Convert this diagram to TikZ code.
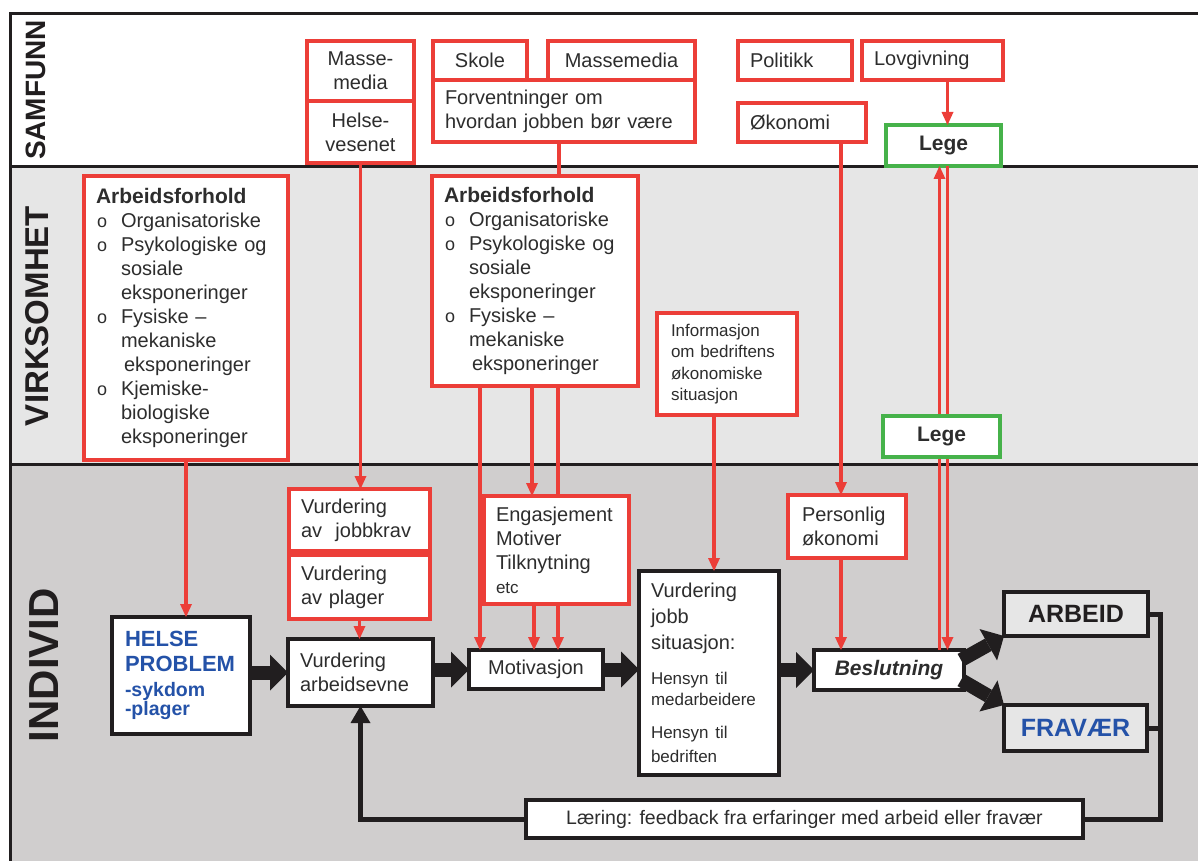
\documentclass[tikz,border=0pt]{standalone}
\usepackage{fontspec}
\setmainfont{Liberation Sans}
\usepackage{tikz}
\usetikzlibrary{
  arrows.meta,
  positioning,  % below=... of x
  calc,
}
\definecolor{myred}{RGB}{236,62,56}
\definecolor{mygreen}{RGB}{70,178,74}
\definecolor{myblue}{RGB}{36,82,168}
\definecolor{mytext}{RGB}{45,45,45}
\definecolor{myblack}{RGB}{33,30,31}
\definecolor{bandmid}{RGB}{230,230,230}
\definecolor{bandlow}{RGB}{208,206,206}
\newcommand{\fnorm}{\fontsize{20}{24}\selectfont}
\newcommand{\fsmall}{\fontsize{17}{21.5}\selectfont}
\newcommand{\arbbul}{\makebox[25pt][l]{\hspace{1pt}\fontsize{18}{18}\selectfont o}}
\newcommand{\arbind}{\hspace*{25pt}}
\tikzset{
  diagram/.style={
    x=1pt,
    y=-1pt
  },
  band line/.style={
    draw=myblack,
    line width=3pt
  },
  my band label/.style={
    rotate=90,
    text=myblack
  },
  my box/.style={
    draw,
    fill=white,
    text=mytext,
    outer sep=0pt,
    inner xsep=12pt,
    inner ysep=2pt,
    font=\fnorm
  },
  my red box/.style={
    my box,
    draw=myred,
    line width=3.8pt
  },
  my green box/.style={
    my box,
    draw=mygreen,
    line width=3.8pt,
    font=\fontsize{21}{24}\selectfont\bfseries
  },
  my black box/.style={
    my box,
    draw=myblack,
    line width=4.8pt
  },
  red line/.style={
    draw=myred,
    line width=3.2pt
  },
  red arrow/.style={
    red line,
    -{Triangle[length=13pt,width=12pt,line width=0pt]}
  },
  block arrow/.style={
    draw=myblack,
    line width=14pt,
    -{Triangle[length=18pt,width=36pt,line width=0pt]}
  },
  feedback/.style={
    draw=myblack,
    line width=5pt
  }
}

\begin{document}
\begin{tikzpicture}[diagram]
\useasboundingbox (0,0) rectangle (1198,861);
% bands
\fill[bandmid] (10,167) rectangle (1198,464);
\fill[bandlow] (10,464) rectangle (1198,861);
\draw[band line] (1198,14) -- (10,14) -- (10,861);
\draw[band line] (10,167) -- (1198,167);
\draw[band line] (10,464) -- (1198,464);
\node[my band label, font=\fontsize{28}{28}\selectfont\bfseries] (samfunn) at (36,90) {SAMFUNN};
\node[my band label, font=\fontsize{33}{33}\selectfont\bfseries] (virksomhet) at (37,316) {VIRKSOMHET};
\node[my band label, font=\fontsize{42}{42}\selectfont\bfseries] (individ) at (44,665) {INDIVID};

% samfunn
\node[my red box, align=center, minimum width=107pt, minimum height=60pt, anchor=north west] (media) at (307,41) {Masse-\\media};
\node[my red box, align=center, minimum width=107pt, minimum height=62pt, below=0pt of media] (helsevesen) {Helse-\\vesenet};
\node[my red box, minimum width=94pt, minimum height=39pt, anchor=north west] (skole) at (433,41) {Skole};
\node[my red box, minimum width=147pt, minimum height=39pt, anchor=north west] (media2) at (548,41) {Massemedia};
\node[my red box, align=left, text width=238pt, minimum height=62pt, below=0pt of skole.south west, anchor=north west] (forv) {Forventninger om\\hvordan jobben bør være};
\node[my red box, align=left, text width=90pt, minimum height=39pt, anchor=north west] (politikk) at (738,41) {Politikk};
\node[my red box, align=left, text width=117pt, minimum height=39pt, anchor=north west] (lov) at (862,41) {Lovgivning};
\node[my red box, align=left, text width=104pt, minimum height=39pt, anchor=north west] (okonomi) at (738,103) {Økonomi};
\node[my green box, minimum width=115pt, minimum height=41pt, anchor=north west] (lege) at (886,125) {Lege};

% virksomhet
\node[my red box, align=left, text width=180pt, minimum height=284pt, anchor=north west] (arbA) at (84,176) {%
  {\fontsize{21}{24}\selectfont\bfseries Arbeidsforhold}\\
  \arbbul Organisatoriske\\
  \arbbul Psykologiske og\\
  \arbind sosiale\\
  \arbind eksponeringer\\
  \arbbul Fysiske –\\
  \arbind mekaniske\\
  \arbind\hspace*{3pt}eksponeringer\\
  \arbbul Kjemiske-\\
  \arbind biologiske\\
  \arbind eksponeringer};
\node[my red box, align=left, text width=182pt, minimum height=210pt, anchor=north west] (arbB) at (432,176) {%
  {\fontsize{21}{24}\selectfont\bfseries Arbeidsforhold}\\
  \arbbul Organisatoriske\\
  \arbbul Psykologiske og\\
  \arbind sosiale\\
  \arbind eksponeringer\\
  \arbbul Fysiske –\\
  \arbind mekaniske\\
  \arbind\hspace*{3pt}eksponeringer};
\node[my red box, align=left, inner xsep=14pt, text width=112pt, minimum height=102pt, anchor=north west, font=\fsmall] (info) at (657,313) {Informasjon\\om bedriftens\\økonomiske\\situasjon};

% individ
\node[my red box, align=left, text width=117pt, minimum height=62pt, anchor=north west] (jobbkrav) at (289,489) {Vurdering\\av~ jobbkrav};
\node[my red box, align=left, text width=117pt, minimum height=64pt, below=4pt of jobbkrav] (plager) {Vurdering\\av plager};
\node[my red box, align=left, text width=121pt, minimum height=108pt, anchor=north west] (engasjement) at (484,496) {Engasjement\\Motiver\\Tilknytning\\{\fsmall etc}};
\node[my red box, align=left, inner xsep=14pt, text width=90pt, minimum height=63pt, anchor=north west] (personlig) at (788,495) {Personlig\\økonomi};
\node[my black box, align=left, inner xsep=13pt, text width=112pt, minimum height=117pt, anchor=north west, text=myblue, font=\bfseries] (helseproblem) at (112,617) {\fontsize{22}{25}\selectfont HELSE\\PROBLEM\\\fontsize{19.5}{24.5}\selectfont -sykdom\\-plager};
\node[my black box, align=left, text width=121pt, minimum height=67pt, anchor=north west] (arbeidsevne) at (288,639) {Vurdering\\arbeidsevne};
\node[my black box, minimum width=134pt, minimum height=39pt, anchor=north west] (motivasjon) at (469,650) {Motivasjon};
\node[my black box, align=left, text width=116pt, minimum height=204pt, anchor=north west] (jobbsit) at (639,571) {\fontsize{20}{26}\selectfont Vurdering\\jobb\\situasjon:\par\vspace{13pt}\fsmall Hensyn til\\medarbeidere\par\vspace{11pt}Hensyn til\\bedriften};
\node[my black box, minimum width=150pt, minimum height=40pt, anchor=north west, font=\fontsize{21}{24}\selectfont\bfseries\itshape] (beslutning) at (814,650) {Beslutning};
\node[my black box, fill=bandmid, minimum width=144pt, minimum height=44pt, anchor=north west, font=\fontsize{25}{28}\selectfont\bfseries, text=myblack] (arbeid) at (1004,592) {ARBEID};
\node[my black box, fill=bandmid, minimum width=143pt, minimum height=46pt, anchor=north west, font=\fontsize{25}{28}\selectfont\bfseries, text=myblue] (fravaer) at (1004,705) {FRAVÆR};
\node[my black box, minimum width=557pt, minimum height=38pt, anchor=north west, font=\fontsize{19.5}{22}\selectfont] (laering) at (526,800) {Læring: feedback fra erfaringer med arbeid eller fravær};

% red connectors
\draw[red arrow] (helsevesen.south) -- (helsevesen.south |- jobbkrav.north);
\draw[red line] ([xshift=-5pt]forv.south) -- ([xshift=-5pt]forv.south |- arbB.north);
\draw[red arrow] ([xshift=4pt]lege.north |- lov.south) -- ([xshift=4pt]lege.north);
\draw[red arrow] ([xshift=-6pt]personlig.north |- okonomi.south) -- ([xshift=-6pt]personlig.north);
\draw[red arrow] ([xshift=-6pt]personlig.south) -- ([xshift=-6pt]personlig.south |- beslutning.north);
\draw[red arrow] ([xshift=-4pt]lege.south |- beslutning.north) -- ([xshift=-4pt]lege.south);
\draw[red arrow] ([xshift=4pt]lege.south) -- ([xshift=4pt]lege.south |- beslutning.north);
\draw[red arrow] (arbA.south) -- (arbA.south |- helseproblem.north);
\draw[red arrow] (plager.south) -- (plager.south |- arbeidsevne.north);
\draw[red arrow] ([xshift=48pt]arbB.south west) -- ([xshift=48pt]arbB.south west |- motivasjon.north);
\draw[red arrow] ([xshift=100pt]arbB.south west) -- ([xshift=100pt]arbB.south west |- engasjement.north);
\draw[red line] ([xshift=126pt]arbB.south west) -- ([xshift=126pt]arbB.south west |- engasjement.north);
\draw[red arrow] ([xshift=50pt]engasjement.south west) -- ([xshift=50pt]engasjement.south west |- motivasjon.north);
\draw[red arrow] ([xshift=74pt]engasjement.south west) -- ([xshift=74pt]engasjement.south west |- motivasjon.north);
\draw[red arrow] ([xshift=-13pt]info.south) -- ([xshift=-13pt]info.south |- jobbsit.north);

\node[my green box, minimum width=117pt, minimum height=41pt, anchor=north west] (lege2) at (883,416) {Lege};

% main flow
\draw[block arrow] (helseproblem.east |- arbeidsevne.west) -- (arbeidsevne.west);
\draw[block arrow] (arbeidsevne.east |- motivasjon.west) -- (motivasjon.west);
\draw[block arrow] (motivasjon.east) -- (motivasjon.east -| jobbsit.west);
\draw[block arrow] (jobbsit.east |- beslutning.west) -- (beslutning.west);
\draw[block arrow] ([xshift=-3pt,yshift=10pt]beslutning.east) -- (arbeid.south west);
\draw[block arrow] ([xshift=-3pt,yshift=-10pt]beslutning.east) -- (fravaer.north west);

% feedback
\draw[feedback] (arbeid.east) -- ++(12,0) coordinate (fb) |- (laering.east);
\draw[feedback] (fravaer.east) -- (fravaer.east -| fb);
\draw[feedback, -{Triangle[length=17pt,width=20pt,line width=0pt]}] (laering.west) -| (arbeidsevne.south);
\end{tikzpicture}
\end{document}
